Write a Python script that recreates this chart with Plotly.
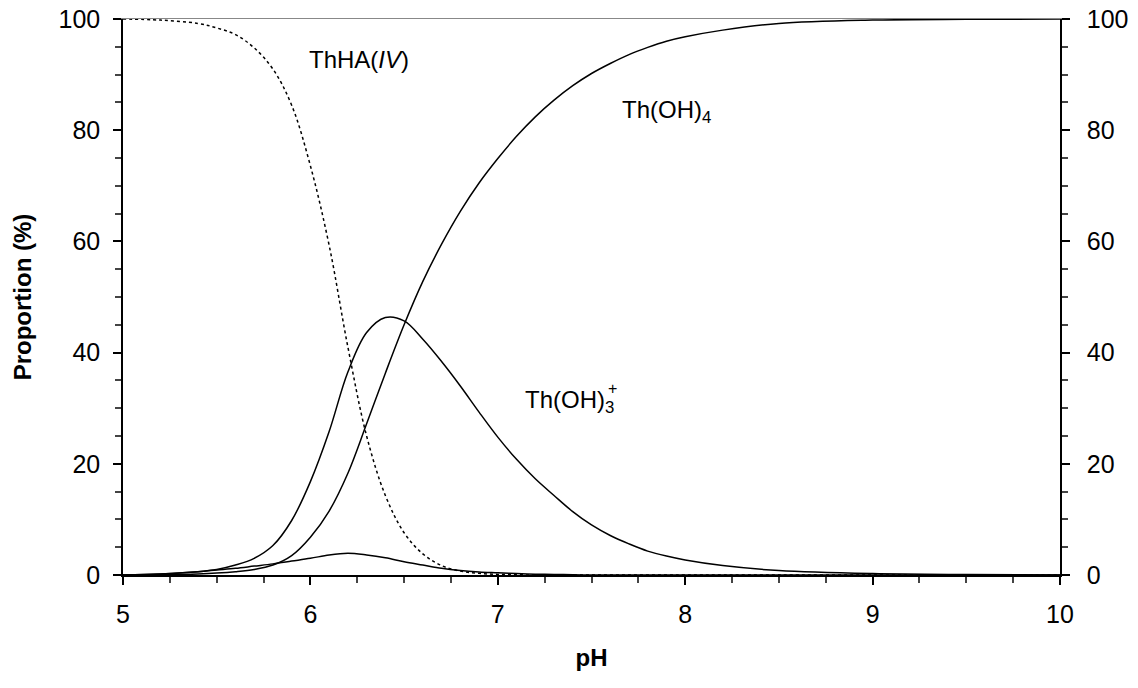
import plotly.graph_objects as go

# pH grid shared by all species
ph = [5.0, 5.2, 5.4, 5.5, 5.6, 5.7, 5.8, 5.9, 6.0, 6.1, 6.2, 6.3, 6.4, 6.5, 6.6, 6.7, 6.8,
      6.9, 7.0, 7.1, 7.2, 7.3, 7.4, 7.5, 7.6, 7.7, 7.8, 7.9, 8.0, 8.2, 8.5, 9.0, 9.5, 10.0]

th_ha = [100, 99.8, 99.2, 98.4, 97.2, 94.8, 91.0, 84.5, 73.6, 59.3, 41.0, 25.0, 14.3, 7.6,
         3.8, 1.7, 0.7, 0.3, 0.1, 0.05, 0, 0, 0, 0, 0, 0, 0, 0, 0, 0, 0, 0, 0, 0]

th_oh3 = [0, 0.2, 0.6, 1.0, 1.8, 3.0, 5.3, 9.8, 16.8, 25.8, 36.5, 43.6, 46.3, 45.7, 42.4,
          38.4, 34.0, 29.3, 24.8, 20.8, 17.3, 14.3, 11.4, 9.0, 7.1, 5.6, 4.3, 3.4, 2.7,
          1.7, 0.8, 0.25, 0.08, 0.02]

th_oh4 = [0, 0.05, 0.2, 0.35, 0.6, 1.0, 1.8, 3.5, 6.8, 11.5, 18.3, 27.2, 36.3, 45.0, 52.8,
          59.5, 65.4, 70.5, 74.9, 78.9, 82.4, 85.4, 88.0, 90.2, 92.0, 93.6, 94.9, 96.0,
          96.8, 98.0, 99.2, 99.8, 99.95, 100]

th_minor = [0, 0.2, 0.6, 0.9, 1.2, 1.6, 2.0, 2.5, 3.0, 3.6, 3.9, 3.6, 3.1, 2.4, 1.8, 1.2,
            0.8, 0.55, 0.4, 0.25, 0.15, 0.1, 0.05, 0, 0, 0, 0, 0, 0, 0, 0, 0, 0, 0]

font = "Liberation Sans, Arial, sans-serif"

fig = go.Figure()
line = dict(color="black", width=1.5, shape="spline", smoothing=1.0)
fig.add_trace(go.Scatter(x=ph, y=th_ha, mode="lines",
                         line=dict(line, dash="dot"), name="ThHA(IV)"))
fig.add_trace(go.Scatter(x=ph, y=th_oh3, mode="lines", line=line, name="Th(OH)3+"))
fig.add_trace(go.Scatter(x=ph, y=th_oh4, mode="lines", line=line, name="Th(OH)4"))
fig.add_trace(go.Scatter(x=ph, y=th_minor, mode="lines", line=line, name="minor"))

labfont = dict(size=24, family=font, color="black")
fig.add_annotation(x=6.26, y=92.8, text="ThHA(<i>IV</i>)", showarrow=False, font=labfont)
fig.add_annotation(x=7.652, y=83.4, text="Th(OH)<sub>4</sub>", showarrow=False,
                   xanchor="left", font=labfont)
fig.add_annotation(x=7.134, y=31.2, text="Th(OH)<sub>3</sub>", showarrow=False,
                   xanchor="left", font=labfont)
# charge sign stacked above the subscript
fig.add_annotation(x=7.612, y=33.6, text="+", showarrow=False,
                   font=dict(size=16, family=font, color="black"))

tickfont = dict(size=25, family=font, color="black")
titlefont = dict(size=24, family=font, color="black")
fig.update_layout(
    width=1138, height=688,
    margin=dict(l=123, r=78, t=19, b=113, autoexpand=False),
    plot_bgcolor="white", paper_bgcolor="white",
    showlegend=False,
    font=dict(family=font, color="black"),
    xaxis=dict(range=[5, 10], dtick=1, ticks="outside", ticklen=8, tickwidth=1.5,
               tickcolor="black", showline=True, linecolor="black", linewidth=2,
               showgrid=False, zeroline=False, tickfont=tickfont, ticklabelstandoff=8,
               ticklabeloverflow="allow", automargin=False,
               minor=dict(dtick=0.25, ticks="outside", ticklen=6, tickcolor="#444"),
               title=dict(text="<b>pH</b>", font=titlefont, standoff=22)),
    xaxis2=dict(range=[5, 10], overlaying="x", side="top", showline=True,
                linecolor="#888", linewidth=1, showticklabels=False, ticks="",
                showgrid=False, zeroline=False, automargin=False),
    yaxis=dict(range=[0, 100], dtick=20, ticks="outside", ticklen=8, tickwidth=1.5,
               tickcolor="black", showline=True, linecolor="black", linewidth=1.5,
               showgrid=False, zeroline=False, tickfont=tickfont, ticklabelstandoff=8,
               ticklabeloverflow="allow", automargin=False,
               minor=dict(dtick=5, ticks="outside", ticklen=6, tickcolor="#444"),
               title=dict(text="<b>Proportion (%)</b>", font=titlefont, standoff=20)),
    yaxis2=dict(range=[0, 100], dtick=20, overlaying="y", side="right", ticks="outside",
                ticklen=8, tickwidth=1.5, tickcolor="black", showline=True,
                linecolor="black", linewidth=1.5, showgrid=False, zeroline=False,
                tickfont=tickfont, ticklabelstandoff=12, ticklabeloverflow="allow",
                automargin=False,
                minor=dict(dtick=5, ticks="outside", ticklen=6, tickcolor="#444")),
)

# invisible helper trace so the right/top axes are drawn
fig.add_trace(go.Scatter(x=[5, 10], y=[0, 100], xaxis="x2", yaxis="y2", mode="lines",
                         line=dict(width=0), hoverinfo="skip", showlegend=False))

# drop the browser's default body margin so the figure sits at the page corner
fig.write_html("out.html", config={"displayModeBar": False},
               post_script="document.body.style.margin='0';")
